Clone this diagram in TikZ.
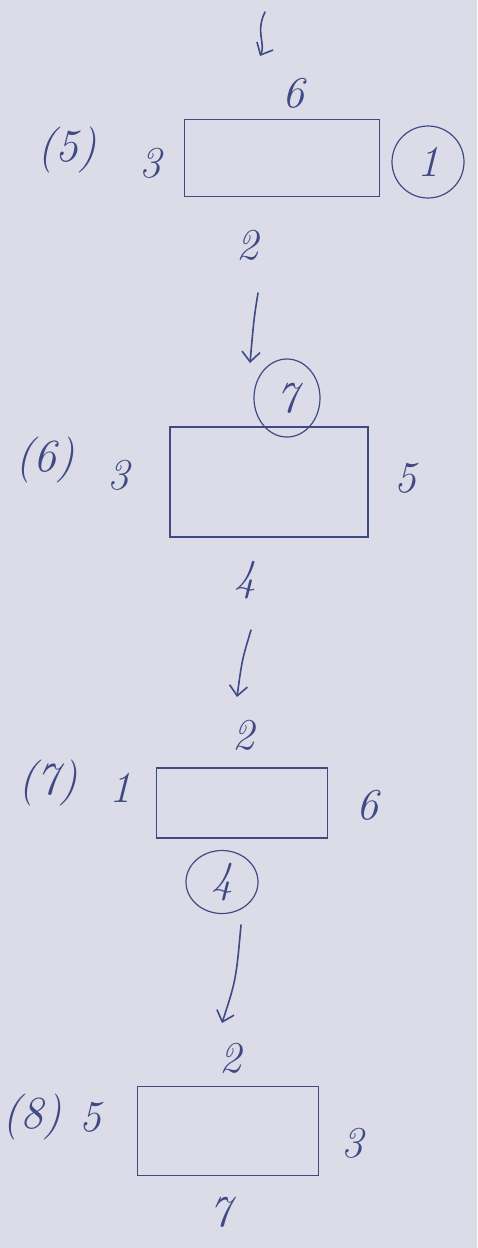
\documentclass[tikz,border=0pt]{standalone}
\usetikzlibrary{arrows.meta,shapes.geometric}
\definecolor{paper}{HTML}{DCDCE8}
\definecolor{ink}{HTML}{3F4A85}
\begin{document}
\begin{tikzpicture}[x=1pt,y=-1pt,
  lbl/.style={text=ink, inner sep=0pt, font=\fontsize{44}{44}\selectfont\itshape},
  tag/.style={lbl, font=\fontsize{46}{46}\selectfont\itshape},
  box/.style={draw=ink, line width=1.6pt, inner sep=0pt},
  ring/.style={lbl, draw=ink, line width=1.2pt, ellipse, inner sep=0pt},
  arr/.style={draw=ink, line width=1.6pt, line cap=round,
    -{Straight Barb[length=10pt,width=18pt,line width=1.6pt]}}]
\fill[paper] (0,0) rectangle (477,1248);
\useasboundingbox (0,0) rectangle (477,1248);

% ---------- block (5)
\node[box, minimum width=195pt, minimum height=77pt] (b1) at (282,158) {};
\node[lbl] (b1t) at (293,93) {6};
\node[lbl] (b1l) at (150,163) {3};
\node[lbl] (b1b) at (247,245) {2};
\node[ring, minimum width=72pt, minimum height=72pt] (b1r) at (428,162) {1};
\node[tag] (n5) at (67,150) {(5)};

% ---------- block (6)
\node[box, minimum width=198pt, minimum height=110pt] (b2) at (269,482) {};
\node[ring, minimum width=66pt, minimum height=78pt] (b2t) at (287,398) {7};
\node[lbl] (b2l) at (118,475) {3};
\node[lbl] (b2r) at (405,478) {5};
\node[lbl] (b2b) at (245,580) {4};
\node[tag] (n6) at (45,460) {(6)};

% ---------- block (7)
\node[box, minimum width=171pt, minimum height=70pt] (b3) at (242,803) {};
\node[lbl] (b3t) at (243,735) {2};
\node[lbl] (b3l) at (120,788) {1};
\node[lbl] (b3r) at (367,805) {6};
\node[ring, minimum width=72pt, minimum height=63pt] (b3b) at (222,882) {4};
\node[tag] (n7) at (48,783) {(7)};

% ---------- block (8)
\node[box, minimum width=181pt, minimum height=89pt] (b4) at (228,1131) {};
\node[lbl] (b4t) at (230,1058) {2};
\node[lbl] (b4l) at (90,1117) {5};
\node[lbl] (b4r) at (352,1143) {3};
\node[lbl] (b4b) at (220,1212) {7};
\node[tag, anchor=west] (n8) at (2,1117) {(8)};

% ---------- arrows
\coordinate (a1s) at (265,12);
\coordinate (a1e) at (260,56);
\coordinate (a2s) at (258,293);
\coordinate (a2e) at (250,363);
\coordinate (a3s) at (251,630);
\coordinate (a3e) at (237,697);
\coordinate (a4s) at (241,925);
\coordinate (a4e) at (222,1023);
\draw[arr] (a1s) .. controls (255,32) and (266,44) .. (a1e);
\draw[arr] (a2s) .. controls (254,318) .. (a2e);
\draw[arr] (a3s) .. controls (242,660) .. (a3e);
\draw[arr] (a4s) .. controls (236,980) .. (a4e);
\end{tikzpicture}
\end{document}
